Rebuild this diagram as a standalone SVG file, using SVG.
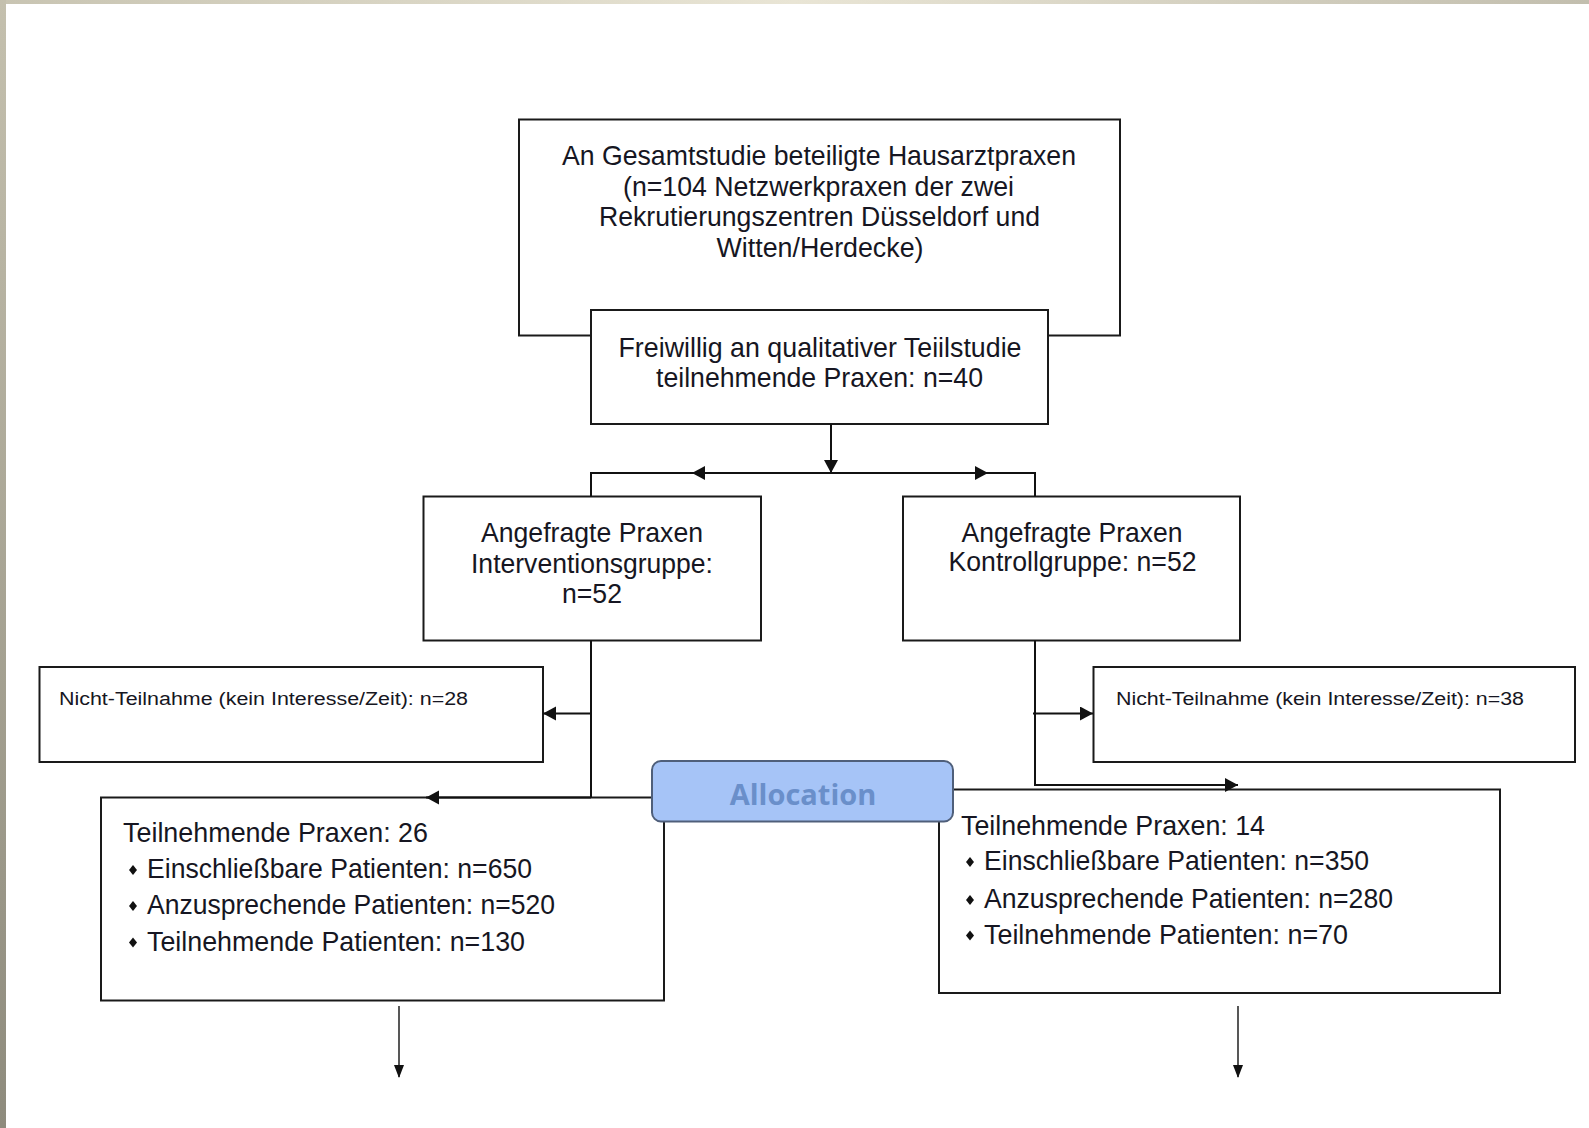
<svg xmlns="http://www.w3.org/2000/svg" width="1589" height="1128" viewBox="0 0 1589 1128">
<defs>
<linearGradient id="gTop" x1="0" y1="0" x2="1" y2="0">
<stop offset="0" stop-color="#c8c4b2"/>
<stop offset="0.5" stop-color="#e9e5d5"/>
<stop offset="1" stop-color="#c2beae"/>
</linearGradient>
<linearGradient id="gLeft" x1="0" y1="0" x2="0" y2="1">
<stop offset="0" stop-color="#c4c0ae"/>
<stop offset="1" stop-color="#8e8b7d"/>
</linearGradient>
<marker id="ah" markerUnits="userSpaceOnUse" markerWidth="16" markerHeight="16" refX="13" refY="7" orient="auto">
<path d="M0,0 L13,7 L0,14 Z" fill="#111"/>
</marker>
<marker id="ahs" markerUnits="userSpaceOnUse" markerWidth="14" markerHeight="16" refX="12" refY="6" orient="auto">
<path d="M0,1 L13,6 L0,11 Z" fill="#111"/>
</marker>
<style>
.box{fill:#fff;stroke:#1a1a1a;stroke-width:2}
.ln{fill:none;stroke:#111;stroke-width:2}
.thin{fill:none;stroke:#111;stroke-width:1.4}
.t{font-family:"Liberation Sans",Arial,sans-serif;font-size:27.5px;fill:#161622}
.c{text-anchor:middle}
.s{font-family:"Liberation Sans",Arial,sans-serif;font-size:18px;fill:#161622}
.alloc{fill:#a6c4f7;stroke:#4f5f7a;stroke-width:2}
.at{font-family:"Open Sans","Noto Sans",sans-serif;font-weight:bold;font-size:29px;fill:#6a8fca;text-anchor:middle}
.bul{fill:#111}
</style>
</defs>
<rect x="0" y="0" width="1589" height="1128" fill="#fff"/>
<rect x="0" y="0" width="1589" height="4" fill="url(#gTop)"/>
<rect x="0" y="0" width="6" height="1128" fill="url(#gLeft)"/>

<g id="n-gesamt">
<rect class="box" x="519" y="119.5" width="601" height="216"/>
<text class="t c" x="819" y="165" textLength="514" lengthAdjust="spacingAndGlyphs">An Gesamtstudie beteiligte Hausarztpraxen</text>
<text class="t c" x="818.5" y="195.5" textLength="391" lengthAdjust="spacingAndGlyphs">(n=104 Netzwerkpraxen der zwei</text>
<text class="t c" x="819.5" y="226" textLength="441" lengthAdjust="spacingAndGlyphs">Rekrutierungszentren Düsseldorf und</text>
<text class="t c" x="820" y="256.5" textLength="207" lengthAdjust="spacingAndGlyphs">Witten/Herdecke)</text>
</g>

<g id="n-freiwillig">
<rect class="box" x="591" y="310" width="457" height="114"/>
<text class="t c" x="820" y="357" textLength="403" lengthAdjust="spacingAndGlyphs">Freiwillig an qualitativer Teiilstudie</text>
<text class="t c" x="819.5" y="386.5" textLength="327" lengthAdjust="spacingAndGlyphs">teilnehmende Praxen: n=40</text>
</g>

<g id="n-interv">
<rect class="box" x="423.5" y="496.5" width="337.5" height="144"/>
<text class="t c" x="592" y="542" textLength="222" lengthAdjust="spacingAndGlyphs">Angefragte Praxen</text>
<text class="t c" x="592" y="572.5" textLength="242" lengthAdjust="spacingAndGlyphs">Interventionsgruppe:</text>
<text class="t c" x="592" y="603" textLength="60" lengthAdjust="spacingAndGlyphs">n=52</text>
</g>

<g id="n-kontroll">
<rect class="box" x="903" y="496.5" width="337" height="144"/>
<text class="t c" x="1072" y="542" textLength="221" lengthAdjust="spacingAndGlyphs">Angefragte Praxen</text>
<text class="t c" x="1072.5" y="571" textLength="248" lengthAdjust="spacingAndGlyphs">Kontrollgruppe: n=52</text>
</g>

<g id="n-nicht-links">
<rect class="box" x="39.5" y="667" width="503.5" height="95"/>
<text class="s" x="59" y="705" textLength="409" lengthAdjust="spacingAndGlyphs">Nicht-Teilnahme (kein Interesse/Zeit): n=28</text>
</g>

<g id="n-nicht-rechts">
<rect class="box" x="1093.5" y="667" width="481.5" height="95"/>
<text class="s" x="1116" y="705" textLength="408" lengthAdjust="spacingAndGlyphs">Nicht-Teilnahme (kein Interesse/Zeit): n=38</text>
</g>

<g id="n-teil-links">
<rect class="box" x="101" y="797.5" width="563" height="203"/>
<text class="t" x="123" y="842" textLength="305" lengthAdjust="spacingAndGlyphs">Teilnehmende Praxen: 26</text>
<path class="bul" d="M129,870 l4,-5 l4,5 l-4,5 Z"/>
<text class="t" x="147" y="878" textLength="385" lengthAdjust="spacingAndGlyphs">Einschließbare Patienten: n=650</text>
<path class="bul" d="M129,906 l4,-5 l4,5 l-4,5 Z"/>
<text class="t" x="147" y="914" textLength="408" lengthAdjust="spacingAndGlyphs">Anzusprechende Patienten: n=520</text>
<path class="bul" d="M129,942.5 l4,-5 l4,5 l-4,5 Z"/>
<text class="t" x="147" y="950.5" textLength="378" lengthAdjust="spacingAndGlyphs">Teilnehmende Patienten: n=130</text>
</g>

<g id="n-teil-rechts">
<rect class="box" x="939" y="789.5" width="561" height="203.5"/>
<text class="t" x="961" y="835" textLength="304" lengthAdjust="spacingAndGlyphs">Teilnehmende Praxen: 14</text>
<path class="bul" d="M966,862 l4,-5 l4,5 l-4,5 Z"/>
<text class="t" x="984" y="870" textLength="385" lengthAdjust="spacingAndGlyphs">Einschließbare Patienten: n=350</text>
<path class="bul" d="M966,900 l4,-5 l4,5 l-4,5 Z"/>
<text class="t" x="984" y="908" textLength="409" lengthAdjust="spacingAndGlyphs">Anzusprechende Patienten: n=280</text>
<path class="bul" d="M966,935.5 l4,-5 l4,5 l-4,5 Z"/>
<text class="t" x="984" y="943.5" textLength="364" lengthAdjust="spacingAndGlyphs">Teilnehmende Patienten: n=70</text>
</g>

<g id="connectors">
<path class="ln" d="M831,424 V473" marker-end="url(#ah)"/>
<path class="ln" d="M831,473 H692" marker-end="url(#ah)"/>
<path class="ln" d="M692,473 H591 V496.5"/>
<path class="ln" d="M831,473 H988" marker-end="url(#ah)"/>
<path class="ln" d="M988,473 H1035 V496.5"/>
<path class="ln" d="M591,640.5 V797.5"/>
<path class="ln" d="M591,713.5 H543" marker-end="url(#ah)"/>
<path class="ln" d="M591,797.5 H426" marker-end="url(#ah)"/>
<path class="ln" d="M1035,640.5 V785 H1238" marker-end="url(#ah)"/>
<path class="ln" d="M1033,713.5 H1093" marker-end="url(#ah)"/>
<path class="thin" d="M399,1006 V1077" marker-end="url(#ahs)"/>
<path class="thin" d="M1238,1006 V1077" marker-end="url(#ahs)"/>
</g>

<g id="n-allocation">
<rect class="alloc" x="652" y="761" width="301" height="60.5" rx="9" ry="9"/>
<text class="at" x="803" y="805">Allocation</text>
</g>
</svg>
